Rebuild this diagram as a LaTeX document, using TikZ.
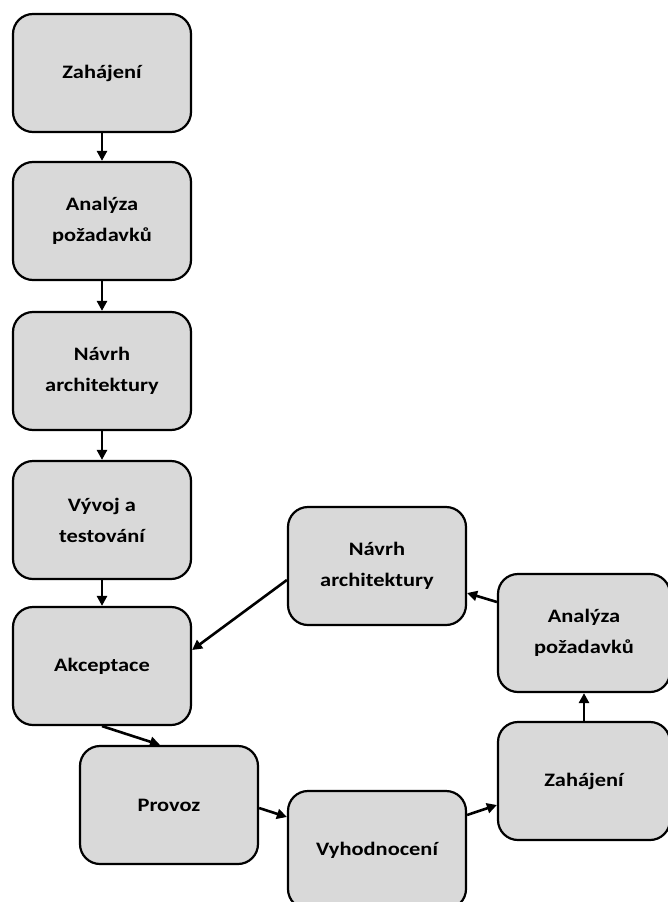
\documentclass[tikz,border=0pt]{standalone}
\usepackage{fontspec}
\setmainfont[FakeStretch=1.18]{Carlito}
\usetikzlibrary{arrows.meta}
\begin{document}
\begin{tikzpicture}[x=1pt,y=-1pt,
  phase/.style={draw=black, line width=2.2pt, fill=black!15, rounded corners=20pt,
    minimum width=178pt, minimum height=118pt, align=center, inner sep=0pt,
    font=\bfseries\fontsize{19}{31}\selectfont},
  flow/.style={line width=2.6pt, -{Triangle[length=10pt,width=10pt]}}]
\useasboundingbox (0,0) rectangle (667,902);
% left column: linear sequence
\node[phase] (z1) at (102,73) {Zahájení};
\node[phase] (a1) at (102,221) {Analýza\\požadavků};
\node[phase] (n1) at (102,371) {Návrh\\architektury};
\node[phase] (v1) at (102,520) {Vývoj a\\testování};
\node[phase] (ak) at (102,666) {Akceptace};
\node[phase] (pr) at (169,805) {Provoz};
% right side: iteration loop
\node[phase] (vy) at (377,850) {Vyhodnocení};
\node[phase, minimum width=172pt] (z2) at (584,781) {Zahájení};
\node[phase, minimum width=172pt] (a2) at (584,633) {Analýza\\požadavků};
\node[phase] (n2) at (377,566) {Návrh\\architektury};
% connectors (yshift is measured upwards)
\draw[flow] (z1) -- (a1);
\draw[flow] (a1) -- (n1);
\draw[flow] (n1) -- (v1);
\draw[flow] (v1) -- (ak);
\draw[flow] (ak.south) -- ([xshift=-9pt]pr.north);
\draw[flow] ([yshift=-3pt]pr.east) -- ([yshift=33pt]vy.west);
\draw[flow] ([yshift=35pt]vy.east) -- ([yshift=-24pt]z2.west);
\draw[flow] (z2.north) -- (a2.south);
\draw[flow] ([yshift=31pt]a2.west) -- ([yshift=-27pt]n2.east);
\draw[flow] ([yshift=-14pt]n2.west) -- ([yshift=16pt]ak.east);
\end{tikzpicture}
\end{document}
